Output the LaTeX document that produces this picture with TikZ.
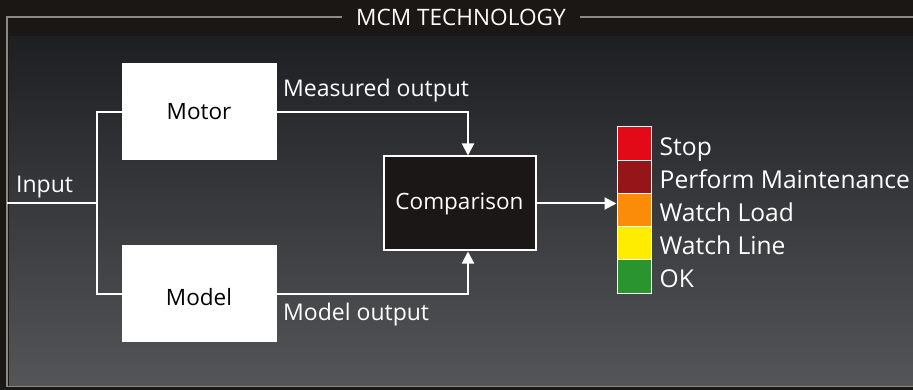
\documentclass[tikz,border=0pt]{standalone}
\usepackage{fontspec}
\setmainfont{Open Sans}
\usetikzlibrary{arrows.meta,calc}

\definecolor{casebg}{HTML}{1A1715}
\definecolor{paneltop}{HTML}{1E1F23}
\definecolor{panelbot}{HTML}{545557}
\definecolor{rimgray}{HTML}{8C8A88}
\definecolor{cmpfill}{HTML}{1A1716}
\definecolor{stopred}{HTML}{E30A17}
\definecolor{maintred}{HTML}{961518}
\definecolor{loadorange}{HTML}{FB8C0A}
\definecolor{lineyellow}{HTML}{FFED00}
\definecolor{okgreen}{HTML}{2A952E}

\tikzset{
  block/.style={draw=white,fill=white,line width=1pt,minimum width=154pt,minimum height=96pt,inner sep=0pt,text=black,font=\fontsize{22.5}{26}\selectfont},
  wire/.style={draw=white,line width=2pt},
  sig/.style={wire,-{Triangle[width=12pt,length=12pt]}},
  lamp/.style={draw=white,line width=1pt,minimum width=34pt,minimum height=33.2pt,inner sep=0pt},
  txt/.style={text=white,inner sep=0pt,font=\fontsize{23}{27}\selectfont},
}

\begin{document}
\begin{tikzpicture}[x=1pt,y=-1pt]
\useasboundingbox (0,0) rectangle (913,390);

% case and panel
\fill[casebg] (0,0) rectangle (913,390);
\fill[black!90] (9,33) rectangle (913,37);
\shade[top color=paneltop,bottom color=panelbot] (9,37) rectangle (913,385);

\node (title) at (461,17)[text=white,inner xsep=14pt,font=\fontsize{22.6}{26}\selectfont]{MCM TECHNOLOGY};
\coordinate (ftl) at (7,17);
\coordinate (fbl) at (7,386.5);
\coordinate (fbr) at (913,386.5);
\coordinate (ftr) at (913,17);
\draw[rimgray,line width=1.5pt] (title.west) -- (ftl) -- (fbl) -- (fbr);
\draw[rimgray,line width=1.5pt] (title.east) -- (ftr);

% blocks
\node (motor) at (199,112)[block]{Motor};
\node (model) at (199,293.5)[block,text depth=0pt,yshift=0pt]{\raisebox{-6pt}{Model}};
\node (cmp) at (459.5,203.5)[block,fill=cmpfill,text=white,line width=2pt,minimum width=152pt,minimum height=94pt]{Comparison};

% input branch
\coordinate (in) at (7,203);
\coordinate (split) at (97,203);
\node[txt,anchor=base west] (inlbl) at (16,193){Input};
\draw[wire] (in) -- (split);
\draw[wire] (split) |- (motor.west);
\draw[wire] (split) |- (model.west);

% outputs into the comparison
\draw[sig] (motor.east) -| ([xshift=8.5pt]cmp.north);
\draw[sig] (model.east) -| ([xshift=8.5pt]cmp.south);
\node[txt,anchor=base west] (measlbl) at (283,97){Measured output};
\node[txt,anchor=base west] (modlbl) at (283,320){Model output};

% status lamps
\foreach \c/\t [count=\i] in {stopred/Stop,maintred/Perform Maintenance,loadorange/Watch Load,lineyellow/Watch Line,okgreen/OK}
{
\node (s\i) at (634,{110.4+33.2*\i})[lamp,fill=\c]{};
\node[txt,anchor=base west,font=\fontsize{24.6}{28}\selectfont] (t\i) at ($(s\i.east)+(8,11.5)$){\t};
}

\draw[sig] (cmp.east) -- (cmp.east -| s3.west);

\end{tikzpicture}
\end{document}
